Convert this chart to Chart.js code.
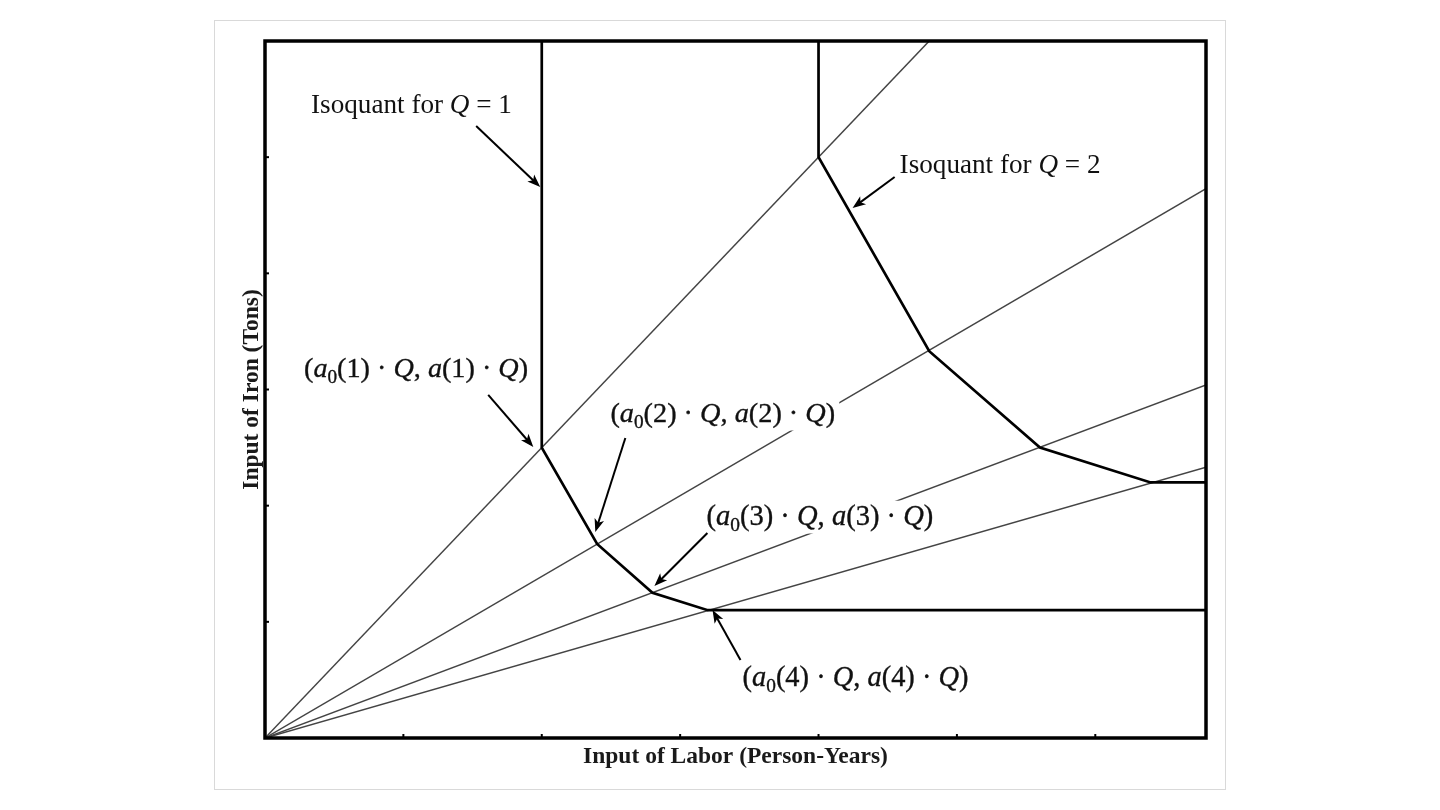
<!DOCTYPE html>
<html><head><meta charset="utf-8">
<script src="https://cdn.jsdelivr.net/npm/chart.js@4.4.0/dist/chart.umd.min.js"></script>
<style>html,body{margin:0;padding:0;background:#fff}#wrap{width:1440px;height:810px;position:relative}</style>
</head><body><div id="wrap"><canvas id="c"></canvas></div>
<script>
// ---- data ----
const xTickValues = [1, 2, 3, 4, 5, 6];
const yTickValues = [1, 2, 3, 4, 5];
const rayEndX = [4.8, 6.8, 6.8, 6.8];
const rayEndY = [6, 4.73, 3.04, 2.33];
const isoQ1X = [2, 2, 2.4, 2.8, 3.2, 6.8];
const isoQ1Y = [6, 2.5, 1.67, 1.25, 1.1, 1.1];
const isoQ2X = [4, 4, 4.8, 5.6, 6.4, 6.8];
const isoQ2Y = [6, 5, 3.33, 2.5, 2.2, 2.2];
const xAxisTitle = 'Input of Labor (Person-Years)';
const yAxisTitle = 'Input of Iron (Tons)';

// annotation texts (segments: n = normal, i = italic, s = subscript)
const labelTexts = [
  [['Isoquant for ', 'n'], ['Q', 'i'], [' = 1', 'n']],
  [['Isoquant for ', 'n'], ['Q', 'i'], [' = 2', 'n']],
  [['(', 'n'], ['a', 'i'], ['0', 's'], ['(1) · ', 'n'], ['Q', 'i'], [', ', 'n'], ['a', 'i'], ['(1) · ', 'n'], ['Q', 'i'], [')', 'n']],
  [['(', 'n'], ['a', 'i'], ['0', 's'], ['(2) · ', 'n'], ['Q', 'i'], [', ', 'n'], ['a', 'i'], ['(2) · ', 'n'], ['Q', 'i'], [')', 'n']],
  [['(', 'n'], ['a', 'i'], ['0', 's'], ['(3) · ', 'n'], ['Q', 'i'], [', ', 'n'], ['a', 'i'], ['(3) · ', 'n'], ['Q', 'i'], [')', 'n']],
  [['(', 'n'], ['a', 'i'], ['0', 's'], ['(4) · ', 'n'], ['Q', 'i'], [', ', 'n'], ['a', 'i'], ['(4) · ', 'n'], ['Q', 'i'], [')', 'n']]
];
// anchor (left, baseline) in data units, and width in x data units
const labelAtX = [0.333, 4.586, 0.282, 2.496, 3.190, 3.451];
const labelAtY = [5.380, 4.863, 3.108, 2.720, 1.834, 0.448];
const labelSpan = [1.452, 1.452, 1.62, 1.625, 1.64, 1.633];
// arrows in data units
const arrowFromX = [1.526, 1.613, 2.604, 3.197, 3.436, 4.550];
const arrowFromY = [5.268, 2.953, 2.582, 1.765, 0.671, 4.829];
const arrowToX = [1.989, 1.939, 2.387, 2.814, 3.234, 4.246];
const arrowToY = [4.743, 2.505, 1.773, 1.308, 1.102, 4.562];

const zip = (xs, ys) => xs.map((v, i) => ({x: v, y: ys[i]}));

const SERIF = '"Liberation Serif", "Times New Roman", serif';

function fontFor(style, size) {
  if (style === 'i') return `italic ${size}px ${SERIF}`;
  if (style === 's') return `${(size * 0.68).toFixed(2)}px ${SERIF}`;
  return `${size}px ${SERIF}`;
}
function measureSegs(ctx, segs, size) {
  let w = 0;
  segs.forEach(([t, st]) => { ctx.font = fontFor(st, size); w += ctx.measureText(t).width; });
  return w;
}

const annotPlugin = {
  id: 'annot',
  beforeDraw(chart) {
    const ctx = chart.ctx;
    ctx.save();
    ctx.fillStyle = '#fff';
    ctx.fillRect(0, 0, chart.width, chart.height);
    ctx.strokeStyle = '#d9d9d9';
    ctx.lineWidth = 1;
    ctx.strokeRect(214.5, 20.5, 1011, 769);
    ctx.restore();
  },
  afterDatasetsDraw(chart) {
    const {ctx, chartArea: a, scales: {x, y}} = chart;
    ctx.save();
    // ticks (inward)
    ctx.strokeStyle = '#000';
    ctx.lineWidth = 2;
    xTickValues.forEach(v => {
      const px = x.getPixelForValue(v);
      ctx.beginPath(); ctx.moveTo(px, a.bottom); ctx.lineTo(px, a.bottom - 4); ctx.stroke();
    });
    yTickValues.forEach(v => {
      const py = y.getPixelForValue(v);
      ctx.beginPath(); ctx.moveTo(a.left, py); ctx.lineTo(a.left + 4, py); ctx.stroke();
    });
    // frame
    ctx.lineWidth = 3.5;
    ctx.strokeRect(a.left, a.top, a.right - a.left, a.bottom - a.top);

    // labels
    labelTexts.forEach((segs, i) => {
      const px = x.getPixelForValue(labelAtX[i]);
      const py = y.getPixelForValue(labelAtY[i]);
      const target = x.getPixelForValue(labelAtX[i] + labelSpan[i]) - px;
      const base = 24;
      const size = base * target / measureSegs(ctx, segs, base);
      ctx.fillStyle = '#fff';
      ctx.fillRect(px - 4, py - size * 0.85, target + 8, size * 1.15);
      ctx.fillStyle = '#111';
      ctx.strokeStyle = '#111';
      ctx.lineWidth = i >= 2 ? 0.35 : 0;
      ctx.textBaseline = 'alphabetic';
      ctx.textAlign = 'left';
      let cx = px;
      segs.forEach(([t, st]) => {
        ctx.font = fontFor(st, size);
        const dy = st === 's' ? size * 0.22 : 0;
        ctx.fillText(t, cx, py + dy);
        if (i >= 2) ctx.strokeText(t, cx, py + dy);
        cx += ctx.measureText(t).width;
      });
    });

    // arrows
    ctx.strokeStyle = '#000';
    ctx.fillStyle = '#000';
    ctx.lineWidth = 2;
    arrowFromX.forEach((_, i) => {
      const x1 = x.getPixelForValue(arrowFromX[i]), y1 = y.getPixelForValue(arrowFromY[i]);
      const x2 = x.getPixelForValue(arrowToX[i]), y2 = y.getPixelForValue(arrowToY[i]);
      const ang = Math.atan2(y2 - y1, x2 - x1);
      ctx.beginPath(); ctx.moveTo(x1, y1); ctx.lineTo(x2 - Math.cos(ang) * 4, y2 - Math.sin(ang) * 4); ctx.stroke();
      const L = 14, w = 0.36;
      ctx.beginPath();
      ctx.moveTo(x2, y2);
      ctx.lineTo(x2 - L * Math.cos(ang - w), y2 - L * Math.sin(ang - w));
      ctx.lineTo(x2 - L * 0.7 * Math.cos(ang), y2 - L * 0.7 * Math.sin(ang));
      ctx.lineTo(x2 - L * Math.cos(ang + w), y2 - L * Math.sin(ang + w));
      ctx.closePath();
      ctx.fill();
    });
    ctx.restore();
  }
};

const rayColor = '#444';
const datasets = [
  {label: 'Isoquant Q=1', data: zip(isoQ1X, isoQ1Y), borderColor: '#000', borderWidth: 2.7, order: 0},
  {label: 'Isoquant Q=2', data: zip(isoQ2X, isoQ2Y), borderColor: '#000', borderWidth: 2.7, order: 0},
].concat(rayEndX.map((ex, i) => ({
  label: 'Ray ' + (i + 1), data: [{x: 0, y: 0}, {x: ex, y: rayEndY[i]}],
  borderColor: rayColor, borderWidth: 1.5, order: 1
})));
datasets.forEach(d => { d.showLine = true; d.pointRadius = 0; d.pointHoverRadius = 0; d.fill = false; d.tension = 0; d.borderJoinStyle = 'miter'; });

new Chart(document.getElementById('c'), {
  type: 'scatter',
  data: {datasets},
  options: {
    responsive: true,
    maintainAspectRatio: false,
    animation: false,
    events: [],
    layout: {padding: {left: 0, top: 41, right: 234, bottom: 0}},
    plugins: {legend: {display: false}, tooltip: {enabled: false}},
    scales: {
      x: {
        type: 'linear', min: 0, max: 6.8,
        ticks: {display: false}, grid: {display: false}, border: {display: false},
        title: {display: true, text: xAxisTitle, color: '#1a1a1a',
          font: {family: SERIF, weight: 'bold', size: 23.5}, padding: {top: 0, bottom: 38.9}},
        afterFit(s) { s.height = 72; }
      },
      y: {
        type: 'linear', min: 0, max: 6,
        ticks: {display: false}, grid: {display: false}, border: {display: false},
        title: {display: true, text: yAxisTitle, color: '#1a1a1a',
          font: {family: SERIF, weight: 'bold', size: 23.5}, padding: {top: 237.9, bottom: 0}},
        afterFit(s) { s.width = 265; }
      }
    }
  },
  plugins: [annotPlugin]
});
</script>
</body></html>
